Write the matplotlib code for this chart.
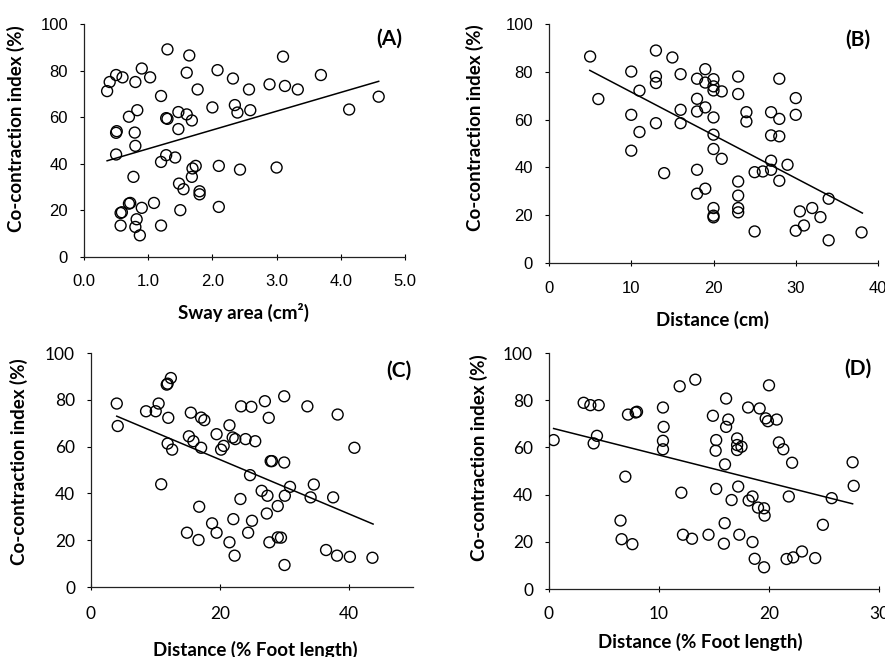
import matplotlib
matplotlib.use('Agg')
import matplotlib.pyplot as plt

W, H = 885, 657

# (A) sway area vs co-contraction
sway_x = [0.36, 0.40, 0.50, 0.60, 0.80, 0.90, 1.03, 1.30, 1.64, 1.60,
          1.77, 1.20, 2.08, 2.32, 2.57, 2.89, 3.10, 3.13, 3.33, 3.69,
          4.59, 4.13, 2.00, 2.35, 2.39, 2.59, 0.83, 0.70, 1.47, 1.60,
          1.68, 1.30, 1.28, 1.47, 0.50, 0.51, 0.79, 0.80, 0.50, 1.28,
          1.20, 1.42, 1.74, 1.69, 2.10, 2.43, 3.00, 0.77, 1.68, 1.48,
          1.55, 1.80, 1.80, 0.72, 0.70, 0.90, 1.09, 0.59, 0.57, 1.50,
          2.10, 0.57, 0.82, 0.80, 0.87, 1.20]
sway_y = [71.2, 75.1, 78.1, 77.1, 75.1, 80.9, 77.1, 89.1, 86.5, 79.1,
          71.9, 69.1, 80.2, 76.6, 71.9, 74.1, 86.0, 73.4, 71.9, 78.1,
          68.8, 63.3, 64.2, 65.2, 62.0, 63.0, 63.0, 60.2, 62.2, 61.2,
          58.6, 59.3, 59.6, 54.9, 53.3, 54.0, 53.4, 47.7, 44.0, 43.7,
          40.8, 42.7, 39.1, 38.0, 39.1, 37.5, 38.4, 34.4, 34.4, 31.5,
          29.1, 28.2, 26.9, 23.2, 22.9, 21.1, 23.2, 19.2, 18.9, 20.1,
          21.5, 13.5, 16.2, 12.9, 9.3, 13.5]
fit_a_x = [0.36, 4.59]
fit_a_y = [41.3, 75.4]

# (B) distance in cm
dist_cm_x = [5, 6, 10, 10, 10, 11, 11, 13, 13, 13, 13, 14, 15, 16, 16, 16,
             18, 18, 18, 18, 18, 19, 19, 19, 19,
             20, 20, 20, 20, 20, 20, 20, 20, 20, 21, 21,
             23, 23, 23, 23, 23, 23, 24, 24, 25, 25, 26,
             27, 27, 27, 27, 28, 28, 28, 28, 29, 30, 30, 30,
             30.5, 31, 32, 33, 34, 34, 38]
dist_cm_y = [86.4, 68.6, 80.1, 62.0, 47.0, 72.1, 54.8, 88.9, 78.0, 75.3, 58.5, 37.6, 86.0, 79.0, 64.1, 58.5,
             77.1, 68.7, 63.4, 39.0, 29.0, 81.1, 75.5, 65.1, 31.1,
             76.9, 73.9, 72.2, 60.9, 53.7, 47.7, 23.0, 19.8, 19.1, 71.8, 43.6,
             78.0, 70.7, 34.1, 28.2, 23.0, 21.2, 63.1, 59.2, 38.0, 13.2, 38.3,
             63.1, 53.4, 42.8, 39.0, 77.1, 60.3, 53.0, 34.4, 41.1, 69.0, 62.0, 13.5,
             21.6, 15.7, 23.0, 19.2, 26.9, 9.5, 12.8]
fit_b_x = [4.96, 38.1]
fit_b_y = [80.6, 20.9]

# (C) distance in % foot length
foot_c_x = [4.0, 4.15, 8.55, 10.05, 10.5, 10.9, 11.76, 11.9, 12.4, 12.0,
            11.9, 12.6, 14.9, 15.2, 15.5, 15.9, 16.7, 16.8, 17.1, 17.6,
            17.1, 18.8, 19.5, 19.5, 20.2, 20.6, 21.5, 21.5, 22.0, 22.4,
            22.1, 22.3, 23.2, 23.3, 24.0, 24.4, 24.7, 24.9, 25.0, 25.5,
            26.5, 27.0, 27.3, 27.4, 27.6, 27.7, 27.9, 28.1, 29.0, 29.0,
            29.5, 30.0, 30.0, 30.1, 30.05, 30.9, 33.6, 34.1, 34.6, 36.5,
            37.6, 38.2, 38.3, 40.2, 40.9, 43.7]
foot_c_y = [78.4, 68.8, 75.1, 75.1, 78.4, 43.9, 86.5, 86.9, 89.3, 72.3,
            61.3, 58.7, 23.2, 64.4, 74.5, 62.3, 20.1, 34.3, 72.4, 71.3,
            59.5, 27.2, 65.3, 23.2, 58.7, 60.3, 69.1, 19.1, 63.9, 63.2,
            29.0, 13.4, 37.6, 77.2, 63.2, 23.2, 47.8, 77.0, 28.3, 62.3,
            41.1, 79.4, 31.4, 39.0, 72.3, 19.1, 53.8, 53.8, 34.6, 21.2,
            21.1, 81.5, 53.2, 39.0, 9.4, 42.8, 77.2, 38.3, 43.8, 15.8,
            38.3, 13.4, 73.7, 12.9, 59.5, 12.5]
fit_c_x = [4.0, 43.8]
fit_c_y = [73.0, 26.9]

# (D) distance in % foot length
foot_d_x = [0.42, 3.15, 3.76, 4.52, 4.06, 4.36, 6.5, 6.6, 6.94, 7.18,
            7.58, 7.88, 8.0, 10.36, 10.42, 10.36, 10.36, 11.88, 12.03, 12.18,
            13.0, 13.3, 14.5, 14.9, 15.2, 15.15, 15.2, 15.97, 15.9, 16.0,
            16.1, 16.3, 16.1, 16.6, 17.1, 17.1, 17.1, 17.2, 17.3, 17.5,
            18.1, 18.15, 18.5, 18.5, 18.7, 19.0, 19.15, 19.55, 19.6, 19.55,
            19.7, 19.9, 20.0, 20.7, 20.9, 21.3, 21.6, 21.8, 22.1, 22.2,
            23.0, 24.2, 24.9, 25.7, 27.6, 27.7]
foot_d_y = [63.1, 78.9, 77.9, 77.9, 61.7, 64.9, 29.0, 21.1, 47.6, 73.9,
            19.0, 74.8, 75.1, 76.9, 68.7, 62.8, 59.2, 85.9, 40.8, 23.0,
            21.3, 88.7, 23.0, 73.4, 63.1, 58.6, 42.4, 27.9, 19.2, 52.8,
            80.7, 71.8, 68.7, 37.7, 63.8, 61.0, 58.9, 43.4, 23.0, 60.3,
            76.9, 37.5, 39.2, 19.9, 12.8, 34.5, 76.5, 34.2, 31.1, 9.2,
            72.3, 71.1, 86.3, 71.8, 62.1, 59.2, 12.7, 39.2, 53.5, 13.4,
            15.9, 13.1, 27.2, 38.5, 53.7, 43.7]
fit_d_x = [0.42, 27.6]
fit_d_y = [68.0, 36.1]

ylab = 'Co-contraction index (%)'
bold_font = ['Lato', 'DejaVu Sans']
arial = ['Liberation Sans', 'DejaVu Sans']


def frac(x, y):
    return x / W, 1 - y / H


def make_axes(fig, left, top, right, bottom):
    # pixel box -> figure fractions
    return fig.add_axes([left / W, 1 - bottom / H, (right - left) / W, (bottom - top) / H])


def style(ax, tick_font, tsize, xpad):
    for s in ['top', 'right']:
        ax.spines[s].set_visible(False)
    for s in ['left', 'bottom']:
        ax.spines[s].set_linewidth(0.9)
        ax.spines[s].set_color('#222222')
    ax.set_ylim(0, 100)
    ax.set_yticks([0, 20, 40, 60, 80, 100])
    ax.tick_params(axis='x', direction='inout', length=4, width=0.8, pad=xpad)
    ax.tick_params(axis='y', direction='out', length=3, width=0.8, pad=8.5)
    for lb in ax.get_xticklabels() + ax.get_yticklabels():
        lb.set_family(tick_font)
        lb.set_fontsize(tsize)


def panel(ax, x, y, fx, fy):
    ax.scatter(x, y, s=62, facecolors='none', edgecolors='black', linewidths=1.0, zorder=3)
    ax.plot(fx, fy, color='black', lw=1.1, zorder=2)


fig = plt.figure(figsize=(W / 100, H / 100), dpi=100)

axA = make_axes(fig, 84, 24, 405, 257)
panel(axA, sway_x, sway_y, fit_a_x, fit_a_y)
axA.set_xlim(0, 5)
axA.set_xticks([0, 1, 2, 3, 4, 5])
axA.set_xticklabels(['0.0', '1.0', '2.0', '3.0', '4.0', '5.0'])
style(axA, arial, 12, 10.5)
axA.set_xlabel('Sway area (cm²)', fontsize=13.5, fontweight='bold', family=bold_font)
axA.xaxis.set_label_coords(*frac(244, 312), transform=fig.transFigure)
axA.text(0.99, 0.935, '(A)', transform=axA.transAxes, ha='right', va='center',
         fontsize=15, fontweight='bold', family=bold_font)

axB = make_axes(fig, 549, 24, 878, 263)
panel(axB, dist_cm_x, dist_cm_y, fit_b_x, fit_b_y)
axB.set_xlim(0, 40)
axB.set_xticks([0, 10, 20, 30, 40])
style(axB, arial, 12, 11)
axB.set_xlabel('Distance (cm)', fontsize=13.5, fontweight='bold', family=bold_font)
axB.xaxis.set_label_coords(*frac(713, 320), transform=fig.transFigure)
axB.text(0.977, 0.935, '(B)', transform=axB.transAxes, ha='right', va='center',
         fontsize=15, fontweight='bold', family=bold_font)

axC = make_axes(fig, 91, 353, 413, 587)
panel(axC, foot_c_x, foot_c_y, fit_c_x, fit_c_y)
axC.set_xlim(0, 50)
axC.set_xticks([0, 20, 40])
style(axC, ['Lato', 'DejaVu Sans'], 12.5, 11.5)
axC.set_xlabel('Distance (% Foot length)', fontsize=13.5, fontweight='bold', family=bold_font)
axC.xaxis.set_label_coords(*frac(255, 650), transform=fig.transFigure)
axC.text(0.995, 0.925, '(C)', transform=axC.transAxes, ha='right', va='center',
         fontsize=15, fontweight='bold', family=bold_font)

axD = make_axes(fig, 549, 353, 879, 589)
panel(axD, foot_d_x, foot_d_y, fit_d_x, fit_d_y)
axD.set_xlim(0, 30)
axD.set_xticks([0, 10, 20, 30])
style(axD, ['Lato', 'DejaVu Sans'], 12.5, 10)
axD.set_xlabel('Distance (% Foot length)', fontsize=13.5, fontweight='bold', family=bold_font)
axD.xaxis.set_label_coords(*frac(700, 642), transform=fig.transFigure)
axD.text(0.977, 0.935, '(D)', transform=axD.transAxes, ha='right', va='center',
         fontsize=15, fontweight='bold', family=bold_font)

# y labels, positioned in figure pixels
for ax, (lx, ly) in [(axA, (16, 129)), (axB, (475, 128)), (axC, (19, 462)), (axD, (479, 458))]:
    ax.set_ylabel(ylab, fontsize=13.5, fontweight='bold', family=bold_font)
    ax.yaxis.label.set_va('center')
    ax.yaxis.set_label_coords(*frac(lx, ly), transform=fig.transFigure)

for ax in [axA, axB, axC, axD]:
    ax.xaxis.label.set_va('center')

fig.savefig('out.png', dpi=100)
